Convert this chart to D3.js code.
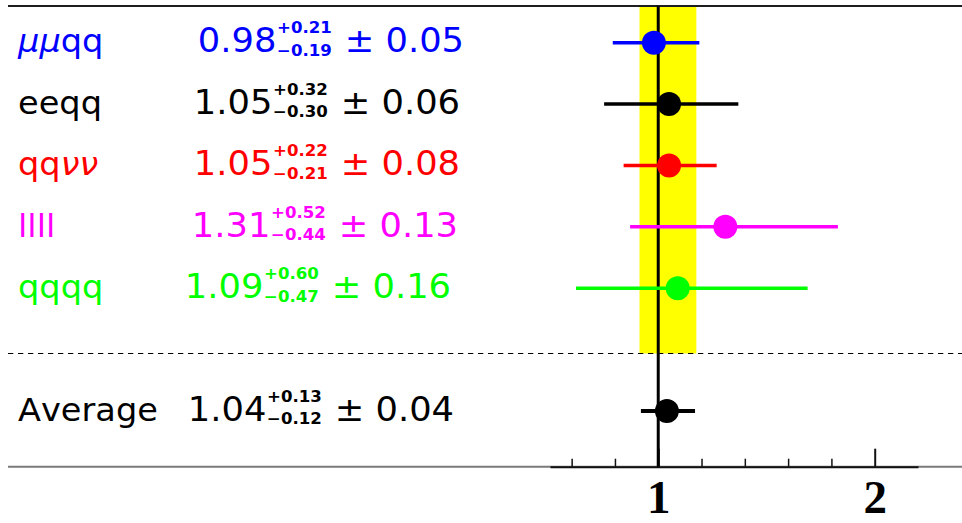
<!DOCTYPE html>
<html>
<head>
<meta charset="utf-8">
<script src="https://cdn.jsdelivr.net/npm/d3@7"></script>
<style>
  html, body { margin: 0; padding: 0; background: #fff; }
  svg { display: block; }
</style>
</head>
<body>
<svg id="chart" width="962" height="523"></svg>
<script>
// ---- data ----
const channels = ["μμqq", "eeqq", "qqνν", "llll", "qqqq", "Average"];
const values   = [0.98, 1.05, 1.05, 1.31, 1.09, 1.04];
const errUp    = [0.21, 0.32, 0.22, 0.52, 0.60, 0.13];
const errDown  = [0.19, 0.30, 0.21, 0.44, 0.47, 0.12];
const syst     = [0.05, 0.06, 0.08, 0.13, 0.16, 0.04];
const rowIndex = [0, 1, 2, 3, 4, 6];
const colors   = ["#0000ff", "#000000", "#ff0000", "#ff00ff", "#00ff00", "#000000"];
const minorTicks = [0.6, 0.8, 1.2, 1.4, 1.6, 1.8];
const majorTicks = [1, 2];
// layout only: horizontal centre of each value string
const valueCenter = [331, 327, 327, 325, 318, 321];

const svg = d3.select("#chart");
const W = 962;
const x = d3.scaleLinear().domain([0.5, 2.2]).range([550, 918]);
const y = d3.scaleLinear().domain([0, 6]).range([42.7, 411]);
const topY = 6, axisY = 466.7, dashY = 353.5;

// yellow band = average ± total error
const ai = 5;
const bandLo = values[ai] - Math.sqrt(errDown[ai] ** 2 + syst[ai] ** 2);
const bandHi = values[ai] + Math.sqrt(errUp[ai] ** 2 + syst[ai] ** 2);
svg.append("rect")
  .attr("x", x(bandLo)).attr("y", topY)
  .attr("width", x(bandHi) - x(bandLo)).attr("height", dashY - topY)
  .attr("fill", "#ffff00");

// frame lines
svg.append("line").attr("x1", 8).attr("x2", W).attr("y1", topY).attr("y2", topY)
  .attr("stroke", "#1e1e1e").attr("stroke-width", 2);
svg.append("line").attr("x1", 8).attr("x2", W).attr("y1", axisY).attr("y2", axisY)
  .attr("stroke", "#7a7a7a").attr("stroke-width", 2);
svg.append("line").attr("x1", 8).attr("x2", W).attr("y1", dashY).attr("y2", dashY)
  .attr("stroke", "#000").attr("stroke-width", 1).attr("stroke-dasharray", "5.3,4.7");

// axis: minor ticks
const gMinor = svg.append("g").attr("transform", `translate(0,${axisY})`)
  .call(d3.axisBottom(x).tickValues(minorTicks).tickSizeInner(-8).tickSizeOuter(0).tickFormat(""));
gMinor.select(".domain").attr("stroke", "#111").attr("stroke-width", 2);
gMinor.selectAll(".tick line").attr("stroke", "#111").attr("stroke-width", 1.5);

// axis: major ticks
const gMajor = svg.append("g").attr("transform", `translate(0,${axisY})`)
  .call(d3.axisBottom(x).tickValues(majorTicks).tickSizeInner(-18).tickSizeOuter(0).tickFormat(d3.format("d")));
gMajor.select(".domain").remove();
gMajor.selectAll(".tick line").attr("stroke", "#111").attr("stroke-width", 2);
gMajor.selectAll(".tick text")
  .attr("y", 46.5).attr("dy", 0)
  .attr("fill", "#000")
  .style("font-family", "'Liberation Serif', 'Times New Roman', serif")
  .style("font-weight", "bold")
  .style("font-size", "47px");

// vertical reference line at 1
svg.append("line").attr("x1", x(1)).attr("x2", x(1)).attr("y1", topY).attr("y2", axisY)
  .attr("stroke", "#000").attr("stroke-width", 3);

// error bars and points
const rows = d3.range(channels.length);
svg.append("g").selectAll("line").data(rows).join("line")
  .attr("x1", i => x(values[i] - errDown[i]))
  .attr("x2", i => x(values[i] + errUp[i]))
  .attr("y1", i => y(rowIndex[i])).attr("y2", i => y(rowIndex[i]))
  .attr("stroke", i => colors[i])
  .attr("stroke-width", i => i === 5 ? 4 : 3.5);
svg.append("g").selectAll("circle").data(rows).join("circle")
  .attr("cx", i => x(values[i]))
  .attr("cy", i => y(rowIndex[i]))
  .attr("r", 12)
  .attr("fill", i => colors[i]);

// text
const FONT = "'DejaVu Sans', Verdana, sans-serif";
const mainSize = 33, smallSize = 15.5;
const sx = 1.07;
rows.forEach(i => {
  const base = y(rowIndex[i]) + 9.8;
  const col = colors[i];
  // label
  const lab = svg.append("text").attr("x", 0).attr("y", base)
    .attr("transform", `translate(18,0) scale(1.05,1)`)
    .attr("fill", col).style("font-family", FONT).style("font-size", (mainSize - 1) + "px");
  for (const ch of channels[i]) {
    const t = lab.append("tspan").text(ch);
    if (ch === "μ" || ch === "ν") t.style("font-style", "italic");
  }
  // value group
  const g = svg.append("g");
  const mainT = g.append("text").attr("x", 0).attr("y", base).attr("fill", col)
    .style("font-family", FONT).style("font-size", mainSize + "px")
    .text(values[i].toFixed(2));
  const wMain = mainT.node().getComputedTextLength();
  const supT = g.append("text").attr("x", wMain + 0.5).attr("y", base - 19).attr("fill", col)
    .style("font-family", FONT).style("font-size", smallSize + "px").style("font-weight", "bold")
    .text("+" + errUp[i].toFixed(2));
  const subT = g.append("text").attr("x", wMain + 0.5).attr("y", base + 3.5).attr("fill", col)
    .style("font-family", FONT).style("font-size", smallSize + "px").style("font-weight", "bold")
    .text("−" + errDown[i].toFixed(2));
  const wSmall = Math.max(supT.node().getComputedTextLength(), subT.node().getComputedTextLength());
  const restX = wMain + 0.5 + wSmall + 12;
  const restT = g.append("text").attr("x", restX).attr("y", base).attr("fill", col)
    .style("font-family", FONT).style("font-size", mainSize + "px")
    .text("± " + syst[i].toFixed(2));
  const total = (restX + restT.node().getComputedTextLength()) * sx;
  g.attr("transform", `translate(${valueCenter[i] - total / 2},0) scale(${sx},1)`);
});
</script>
</body>
</html>
